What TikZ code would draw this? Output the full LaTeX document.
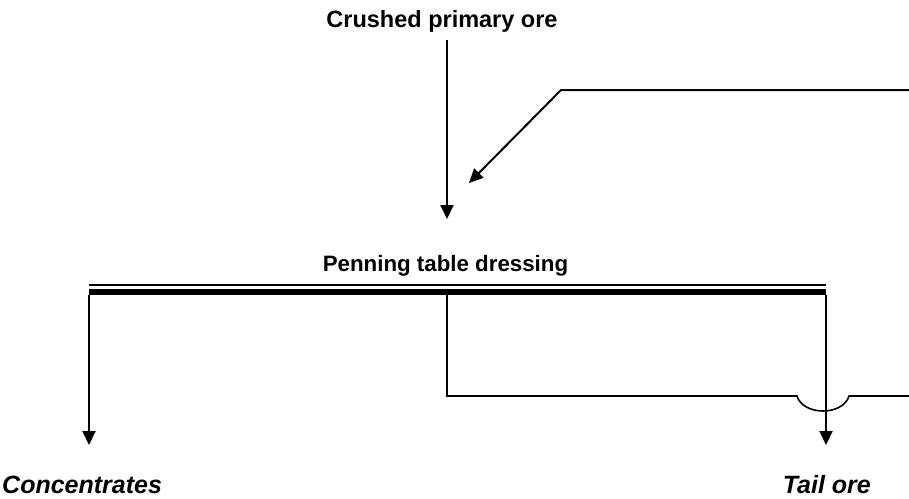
\documentclass[tikz,border=0pt]{standalone}
\usepackage{fontspec}
\setmainfont{Liberation Sans}
\usetikzlibrary{arrows.meta}
\begin{document}
\begin{tikzpicture}[x=1pt,y=-1pt,
  flow/.style={line width=2pt,-{Triangle[length=14pt,width=13pt]}},
  plain/.style={line width=1.6pt},
  lbl/.style={inner sep=0pt,font=\bfseries\fontsize{23.5}{27}\selectfont},
  lblsmall/.style={inner sep=0pt,font=\bfseries\fontsize{22.3}{26}\selectfont},
  lblit/.style={inner sep=0pt,font=\bfseries\itshape\fontsize{25}{29}\selectfont}]
\useasboundingbox (0,0) rectangle (909,498);
% texts
\node[lbl,anchor=base] (crushed) at (442,27) {Crushed primary ore};
\node[lblsmall,anchor=base] (penning) at (445.5,271) {Penning table dressing};
\node[lblit,anchor=base west] (conc) at (2,493) {Concentrates};
\node[lblit,anchor=base east] (tail) at (871,493) {Tail ore};
% coordinates
\coordinate (feedtip) at (447,219);
\coordinate (feedtop) at (447,40);
\coordinate (retR) at (909,90);
\coordinate (retK) at (561,90);
\coordinate (retTip) at (469,183);
\coordinate (tL) at (89,292);
\coordinate (tR) at (826,292);
\coordinate (tM) at (447,295);
\coordinate (concTip) at (89,445);
\coordinate (tailTip) at (826,445);
\coordinate (mB) at (447,396);
\coordinate (a1) at (797,396);
\coordinate (a2) at (849,396);
\coordinate (eR) at (909,396);
% table lines
\draw[line width=1.6pt] (89,285) -- (826,285);
\draw[line width=6pt] (tL) -- (tR);
% feed arrows
\draw[flow] (feedtop) -- (feedtip);
\draw[flow] (retR) -- (retK) -- (retTip);
% outputs
\draw[flow] ([yshift=-3pt]tL) -- (concTip);
\draw[flow] ([yshift=-3pt]tR) -- (tailTip);
% middlings return
\draw[plain] (tM) -- (mB) -- (a1) .. controls (803,416) and (843,416) .. (a2) -- (eR);
\end{tikzpicture}
\end{document}
